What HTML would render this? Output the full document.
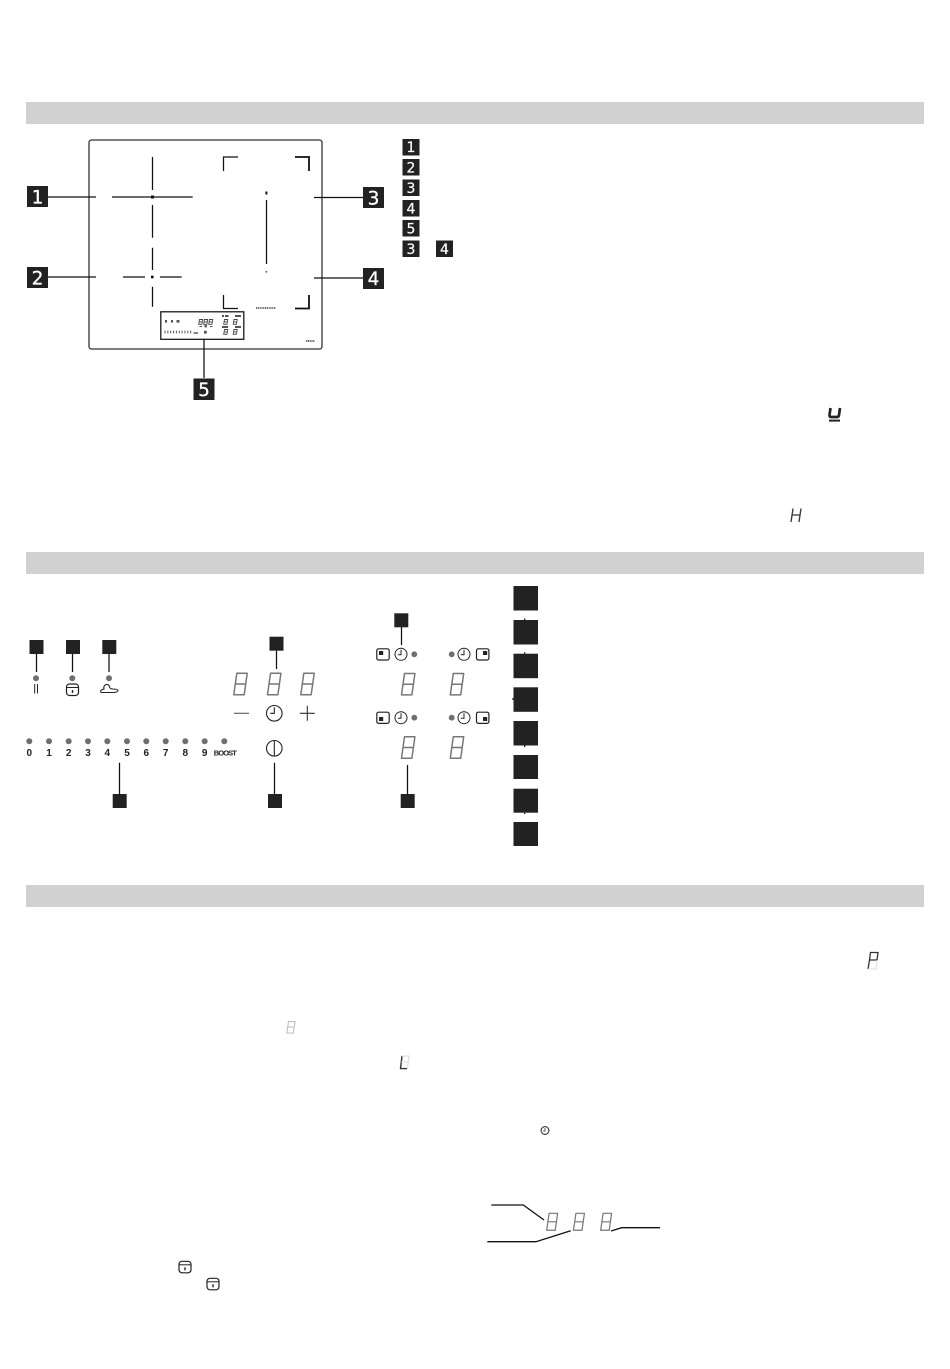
<!DOCTYPE html>
<html><head><meta charset="utf-8"><style>
html,body{margin:0;padding:0;background:#fff}
svg{display:block}
text{font-family:"DejaVu Sans","Liberation Sans",sans-serif}
.n{font-family:"Liberation Sans",sans-serif;font-weight:bold;font-size:10px;fill:#222;text-anchor:middle}
.l{fill:#fff;font-size:18.5px;text-anchor:middle;stroke:#fff;stroke-width:.3}
.s{fill:#fff;font-size:14px;text-anchor:middle;stroke:#fff;stroke-width:.2}
</style></head><body>
<svg width="950" height="1369" viewBox="0 0 950 1369">
<defs>
<g id="d"><path d="M3.8 .8H14.2L11.2 22.2H.8ZM2.4 11.5H12.7" fill="none" stroke="#777" stroke-width="1.5" stroke-linejoin="round"/></g>
<g id="c"><circle r="7.8" fill="none" stroke="#222" stroke-width="1.1"/><path d="M0 -6V0H-4" fill="none" stroke="#222" stroke-width="1.1"/></g>
<g id="c2"><circle r="6" fill="none" stroke="#222" stroke-width="1"/><path d="M0 -4.5V0.5H-3.2" fill="none" stroke="#222" stroke-width="1"/></g>
<g id="p"><rect x="-6" y="-5.5" width="12" height="11.5" rx="3" fill="none" stroke="#222" stroke-width="1.2"/><path d="M-6 -2H6" stroke="#222" stroke-width="1"/><path d="M0 0.5V3.5" stroke="#222" stroke-width="1.4"/></g>
</defs>

<rect x="26" y="102" width="898" height="22" fill="#d1d1d1"/>
<rect x="26" y="552" width="898" height="22" fill="#d1d1d1"/>
<rect x="26" y="885" width="898" height="22" fill="#d1d1d1"/>

<!-- hob -->
<rect x="89" y="140" width="233" height="209" rx="2.5" fill="none" stroke="#333" stroke-width="1.3"/>
<g stroke="#111" stroke-width="1.25" fill="none">
<path d="M48 197H96M112 197H192.7M152.5 157V190M152.5 205V237.7M152.5 247.7V270M152.5 286.7V306.7"/>
<path d="M48 277H96M123 277H145M160 277H181.7"/>
<path d="M266.5 200V264"/>
<path d="M314 197.5H363M314 278H363"/>
<path d="M223.5 171V157H238M223.5 295V308.5H238"/>
<path d="M295 157H309V171M295 308.5H309V295" stroke-width="1.8"/>
<rect x="160.8" y="311.8" width="83" height="27.5"/>
<path d="M204 339V378"/>
</g>
<rect x="151" y="195.5" width="3" height="3" fill="#111"/>
<rect x="151" y="275.7" width="2.6" height="2.6" fill="#111"/>
<rect x="265.4" y="191.5" width="2" height="3" fill="#111"/>
<rect x="265.6" y="271" width="1.6" height="1.6" fill="#555"/>
<path d="M256 308H276" stroke="#777" stroke-width="2" stroke-dasharray="1.2 .6"/>
<path d="M306 341H315" stroke="#555" stroke-width="1.8" stroke-dasharray="1.2 .6"/>

<!-- mini panel -->
<g fill="#555">
<rect x="165" y="320" width="2" height="2.6"/><rect x="171" y="320" width="2" height="2.6"/><rect x="176.5" y="320" width="3" height="2.6"/>
<rect x="199.5" y="326" width="2.6" height="1"/><rect x="204.5" y="325" width="2.4" height="2.4"/><rect x="210" y="326" width="2.6" height="1"/>
<rect x="204" y="330.8" width="2.8" height="2.8"/>
<rect x="222" y="315" width="2" height="2"/><rect x="225" y="315" width="3.5" height="2"/><rect x="235" y="315" width="6" height="2"/><rect x="222" y="326" width="6" height="2"/><rect x="235" y="326" width="6" height="2"/>
</g>
<path d="M164.5 332H193" stroke="#555" stroke-width="2.8" stroke-dasharray="1 1.85" fill="none"/>
<path d="M193.5 333H198" stroke="#555" stroke-width="1.4"/>
<g stroke="#444" stroke-width=".9" fill="none">
<path d="M199.5 319.5h3.2l-.8 4.8h-3.2zM204.5 319.5h3.2l-.8 4.8h-3.2zM209.5 319.5h3.2l-.8 4.8h-3.2z M198.8 321.9h3.4M203.8 321.9h3.4M208.8 321.9h3.4"/>
<path d="M224.5 319.5h3.2l-.8 4.8h-3.2zM234 319.5h3.2l-.8 4.8h-3.2zM224.5 329.5h3.2l-.8 4.8h-3.2zM234 329.5h3.2l-.8 4.8h-3.2z M223.8 321.9h3.4M233.3 321.9h3.4M223.8 331.9h3.4M233.3 331.9h3.4"/>
</g>

<!-- numbered boxes -->
<g fill="#222">
<rect x="27" y="186" width="21" height="21"/><rect x="27" y="267" width="21" height="21"/>
<rect x="363" y="187" width="21" height="21"/><rect x="363" y="268" width="21" height="21"/>
<rect x="193.5" y="378.5" width="21" height="21.5"/>
<rect x="402.5" y="139" width="17" height="16.5"/><rect x="402.5" y="159" width="17" height="16.5"/>
<rect x="402.5" y="179.5" width="17" height="16.5"/><rect x="402.5" y="200" width="17" height="16.5"/>
<rect x="402.5" y="220" width="17" height="16.5"/><rect x="402.5" y="240.5" width="17" height="16.5"/>
<rect x="436" y="240.5" width="17" height="16.5"/>
</g>
<text class="l" x="37.5" y="203.5">1</text><text class="l" x="37.5" y="284.5">2</text>
<text class="l" x="373.5" y="204.5">3</text><text class="l" x="373.5" y="285">4</text>
<text class="l" x="204" y="396">5</text>
<text class="s" x="411" y="152">1</text><text class="s" x="411" y="172.5">2</text>
<text class="s" x="411" y="193">3</text><text class="s" x="411" y="213.5">4</text>
<text class="s" x="411" y="233.5">5</text><text class="s" x="411" y="254">3</text>
<text class="s" x="444.5" y="254">4</text>

<!-- u and H -->
<path d="M830.5 408L829.5 415Q829.3 417 831 417H837Q838.7 417 839 415L840 408" fill="none" stroke="#222" stroke-width="2.7"/>
<path d="M829 420.6H840" stroke="#222" stroke-width="2"/>
<path d="M793 508.5L791 522M801 508.5L799 522M792 515H800" fill="none" stroke="#333" stroke-width="1.3"/>

<!-- control panel -->
<g fill="#222">
<rect x="29.5" y="640" width="14" height="14"/><rect x="66" y="640" width="14" height="14"/><rect x="102.3" y="640" width="14" height="14"/>
<rect x="269.5" y="636.7" width="14" height="14"/>
<rect x="394.3" y="613.3" width="14" height="14"/>
<rect x="112.7" y="794" width="14" height="14"/><rect x="268" y="794" width="14" height="14"/><rect x="400.7" y="794" width="14" height="14"/>
<rect x="513.5" y="586" width="24.5" height="24.5"/><rect x="513.5" y="620" width="24.5" height="24.5"/>
<rect x="513.5" y="653.7" width="24.5" height="24.5"/><rect x="513.5" y="687.3" width="24.5" height="24.5"/>
<rect x="513.5" y="721" width="24.5" height="24.5"/><rect x="513.5" y="755" width="24.5" height="24"/>
<rect x="513.5" y="788.7" width="24.5" height="24"/><rect x="513.5" y="822" width="24.5" height="24"/>
</g>
<g stroke="#111" stroke-width="1.25" fill="none">
<path d="M36.5 654V672M72.5 654V672M109 654V672M276.5 650.7V669M401.5 627V645M119.5 762.7V794M274.5 762.7V794M407.5 765V794"/>
<path d="M524.7 618.5V620M524.7 652.2V653.7M512 699H513.5M524.7 745.5V747M524.7 812.7V814"/>
</g>
<g fill="#6f6f6f">
<circle cx="36" cy="678.3" r="3"/><circle cx="72.3" cy="678.3" r="3"/><circle cx="109" cy="678.3" r="3"/>
<circle cx="29.3" cy="741.3" r="3"/><circle cx="49" cy="741.3" r="3"/><circle cx="68.7" cy="741.3" r="3"/><circle cx="88" cy="741.3" r="3"/>
<circle cx="107.3" cy="741.3" r="3"/><circle cx="127" cy="741.3" r="3"/><circle cx="146.3" cy="741.3" r="3"/><circle cx="165.7" cy="741.3" r="3"/>
<circle cx="185.3" cy="741.3" r="3"/><circle cx="204.7" cy="741.3" r="3"/><circle cx="224.3" cy="741.3" r="3"/>
<circle cx="414.3" cy="654.3" r="2.9"/><circle cx="451.7" cy="654.3" r="2.9"/><circle cx="414.3" cy="717.7" r="2.9"/><circle cx="451.7" cy="717.7" r="2.9"/>
</g>
<path d="M34.7 684V693.5M37.5 684V693.5" stroke="#222" stroke-width="1"/>
<use href="#p" x="72.5" y="689.5"/>
<g fill="none" stroke="#222" stroke-width="1.1">
<path d="M100.5 692Q100.5 689.5 104 689Q103 686 106 684.5Q109 684 109.5 687Q110 689 113 689M100.5 692.5H112Q118 692.5 118 690.5Q118 689 112 689"/>
</g>
<text class="n" x="29.3" y="756">0</text><text class="n" x="49" y="756">1</text><text class="n" x="68.7" y="756">2</text><text class="n" x="88" y="756">3</text>
<text class="n" x="107.3" y="756">4</text><text class="n" x="127" y="756">5</text><text class="n" x="146.3" y="756">6</text><text class="n" x="165.7" y="756">7</text>
<text class="n" x="185.3" y="756">8</text><text class="n" x="204.7" y="756">9</text>
<text class="n" x="225.3" y="755.3" style="font-size:7.5px" textLength="23">BOOST</text>

<use href="#d" x="233" y="672.5"/><use href="#d" x="266.7" y="672.5"/><use href="#d" x="300" y="672.5"/>
<path d="M234 713.3H249" stroke="#666" stroke-width="1.2" fill="none"/>
<path d="M299.8 713.3H314.8M307.3 705.8V720.8" stroke="#333" stroke-width="1.1" fill="none"/>
<use href="#c" x="274.3" y="713.3"/>
<circle cx="274.3" cy="748.3" r="7.8" fill="none" stroke="#222" stroke-width="1.1"/><path d="M274.3 740.5V756" stroke="#222" stroke-width="1.1"/>

<g fill="none" stroke="#222" stroke-width="1.2">
<rect x="376.8" y="648.8" width="12.4" height="11.2" rx="1.8"/><rect x="476.5" y="648.8" width="12.4" height="11.2" rx="1.8"/>
<rect x="376.8" y="712.2" width="12.4" height="11.2" rx="1.8"/><rect x="476.5" y="712.2" width="12.4" height="11.2" rx="1.8"/>
</g>
<g fill="#222">
<rect x="379" y="651" width="4.2" height="4"/><rect x="483" y="651" width="4.2" height="4"/>
<rect x="379" y="717" width="4.2" height="4"/><rect x="483" y="717" width="4.2" height="4"/>
</g>
<use href="#c2" x="401" y="654.3"/><use href="#c2" x="464" y="654.3"/>
<use href="#c2" x="401" y="717.7"/><use href="#c2" x="464" y="717.7"/>
<use href="#d" x="400.7" y="672.7"/><use href="#d" x="449.5" y="672.7"/>
<use href="#d" x="400.7" y="736"/><use href="#d" x="449.5" y="736"/>

<!-- section 3 glyphs -->
<g fill="none">
<path d="M870.5 952.5H878L877 960H869.5ZM869.5 960L868 969" stroke="#333" stroke-width="1.3"/>
<path d="M877 960L876 969H868" stroke="#ddd"/>
<path d="M288.5 1021.5H295L293.4 1033H286.8ZM287.6 1027H294.2" stroke="#bbb"/>
<path d="M402 1056L400.5 1068.6H407" stroke="#333" stroke-width="1.4"/>
<path d="M402 1056H409L407.5 1068.6M401.2 1062H408" stroke="#ddd"/>
</g>
<circle cx="545" cy="1130.5" r="3.9" fill="none" stroke="#333" stroke-width="1.1"/><path d="M545 1128V1131H543" fill="none" stroke="#333" stroke-width=".8"/>
<use href="#p" x="185" y="1266.8"/><use href="#p" x="213" y="1283.8"/>
<g transform="translate(546 1212.7) scale(.82 .79)"><use href="#d"/></g>
<g transform="translate(572.8 1212.7) scale(.82 .79)"><use href="#d"/></g>
<g transform="translate(600 1212.7) scale(.82 .79)"><use href="#d"/></g>
<g fill="none" stroke="#111" stroke-width="1.3">
<path d="M491.3 1205H523.3L544 1220"/>
<path d="M487.3 1241.7H536L570.7 1230.7"/>
<path d="M611 1231L621.7 1227.7H660"/>
</g>
</svg>
</body></html>
